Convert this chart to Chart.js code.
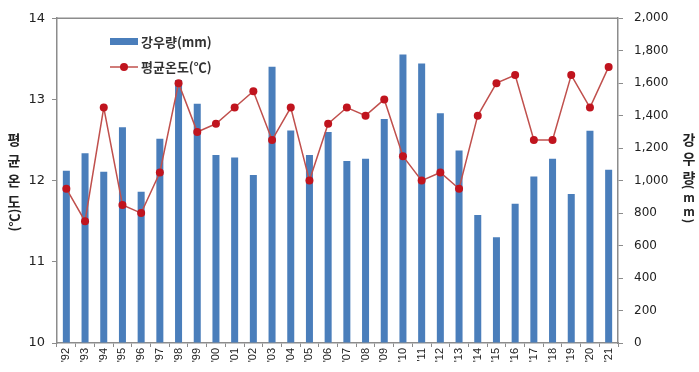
<!DOCTYPE html>
<html>
<head>
<meta charset="utf-8">
<script src="https://cdn.jsdelivr.net/npm/chart.js@4"></script>
<style>
  body { margin: 0; background: #fff; }
  #wrap { width: 699px; height: 372px; }
</style>
</head>
<body>
<div id="wrap"><canvas id="chart"></canvas></div>
<script>
// données
const annees = ["'92","'93","'94","'95","'96","'97","'98","'99","'00","'01","'02","'03","'04","'05","'06",
                "'07","'08","'09","'10","'11","'12","'13","'14","'15","'16","'17","'18","'19","'20","'21"];
const pluie = [1060,1168,1054,1329,932,1257,1620,1473,1158,1142,1034,1701,1309,1158,1299,
               1120,1134,1379,1777,1721,1415,1186,788,651,858,1025,1134,917,1307,1067];
const temperature = [11.9,11.5,12.9,11.7,11.6,12.1,13.2,12.6,12.7,12.9,13.1,12.5,12.9,12.0,12.7,
                     12.9,12.8,13.0,12.3,12.0,12.1,11.9,12.8,13.2,13.3,12.5,12.5,13.3,12.9,13.4];
const ticksTemp = [10, 11, 12, 13, 14];

const bleu = '#4a7ebb';
const rouge = '#c0504d';
const rougeFonce = '#c0141e';
const gris = '#8c8c8c';
const fontKr = '"Noto Sans CJK KR", "Noto Sans", sans-serif';

// titres verticaux + bord du haut + légende
const decor = {
  id: 'decor',
  afterDraw(chart) {
    const ctx = chart.ctx;
    const a = chart.chartArea;
    ctx.save();
    // bord du haut
    ctx.strokeStyle = gris;
    ctx.lineWidth = 1.5;
    ctx.beginPath();
    ctx.moveTo(a.left, a.top);
    ctx.lineTo(a.right, a.top);
    ctx.stroke();

    // titre gauche
    ctx.fillStyle = '#222';
    ctx.font = 'bold 14px ' + fontKr;
    ctx.textAlign = 'center';
    ctx.textBaseline = 'middle';
    ['평', '균', '온', '도'].forEach((c, i) => ctx.fillText(c, 14, 140 + i * 20.5));
    ctx.save();
    ctx.translate(14, 220);
    ctx.rotate(-Math.PI / 2);
    ctx.font = 'bold 13px ' + fontKr;
    ctx.fillText('(℃)', 0, 0);
    ctx.restore();

    // titre droit
    ctx.font = 'bold 14px ' + fontKr;
    ['강', '우', '량'].forEach((c, i) => ctx.fillText(c, 689, 140 + i * 19));
    const reste = [['(', 187, true], ['m', 197, false], ['m', 211, false], [')', 221, true]];
    ctx.font = 'bold 12px ' + fontKr;
    reste.forEach(([c, y, tourne]) => {
      ctx.save();
      ctx.translate(689, y);
      if (tourne) ctx.rotate(Math.PI / 2);
      ctx.fillText(c, 0, 0);
      ctx.restore();
    });

    // légende
    const ds = chart.data.datasets;
    ctx.textAlign = 'left';
    ctx.font = 'bold 13px ' + fontKr;
    ctx.fillStyle = bleu;
    ctx.fillRect(110, 38, 28, 7);
    ctx.fillStyle = '#333';
    ctx.fillText(ds[1].label, 141, 42);
    ctx.strokeStyle = rouge;
    ctx.lineWidth = 1.5;
    ctx.beginPath();
    ctx.moveTo(110, 67);
    ctx.lineTo(138, 67);
    ctx.stroke();
    ctx.fillStyle = rougeFonce;
    ctx.beginPath();
    ctx.arc(124, 67, 4, 0, Math.PI * 2);
    ctx.fill();
    ctx.fillStyle = '#333';
    ctx.fillText(ds[0].label, 141, 67);
    ctx.restore();
  }
};

new Chart(document.getElementById('chart'), {
  data: {
    labels: annees,
    datasets: [
      {
        type: 'line',
        label: '평균온도(℃)',
        data: temperature,
        yAxisID: 'y',
        borderColor: rouge,
        borderWidth: 1.5,
        pointBackgroundColor: rougeFonce,
        pointBorderColor: rougeFonce,
        pointBorderWidth: 0,
        pointRadius: 4,
        tension: 0,
        order: 0
      },
      {
        type: 'bar',
        label: '강우량(mm)',
        data: pluie,
        yAxisID: 'y1',
        backgroundColor: bleu,
        barPercentage: 0.75,
        categoryPercentage: 0.5,
        order: 1
      }
    ]
  },
  options: {
    responsive: true,
    maintainAspectRatio: false,
    animation: false,
    layout: { padding: { top: 11, left: 0, right: 0, bottom: 0 } },
    plugins: {
      legend: { display: false },
      tooltip: { enabled: false }
    },
    scales: {
      x: {
        offset: true,
        grid: { display: true, drawOnChartArea: false, offset: true, tickLength: 4, color: gris },
        border: { color: gris, width: 1.5 },
        ticks: {
          minRotation: 90, maxRotation: 90, autoSkip: false, padding: 1,
          color: '#222', font: { size: 11, family: '"Liberation Sans", Arial, sans-serif' }
        },
        afterFit: s => { s.height = 29; }
      },
      y: {
        position: 'left',
        min: 10, max: 14,
        afterBuildTicks: s => { s.ticks = ticksTemp.map(v => ({ value: v })); },
        grid: { drawOnChartArea: false, tickLength: 5, color: gris },
        border: { color: gris, width: 1.5 },
        ticks: { padding: 7, color: '#222', font: { size: 13, family: 'DejaVu Sans' } },
        afterFit: s => { s.width = 57; }
      },
      y1: {
        position: 'right',
        min: 0, max: 2000,
        grid: { drawOnChartArea: false, tickLength: 5, color: gris },
        border: { color: gris, width: 1.5 },
        ticks: {
          stepSize: 200, padding: 11, color: '#222',
          font: { size: 12, family: 'DejaVu Sans' },
          callback: v => v.toLocaleString('en-US')
        },
        afterFit: s => { s.width = 81; }
      }
    }
  },
  plugins: [decor]
});
</script>
</body>
</html>
